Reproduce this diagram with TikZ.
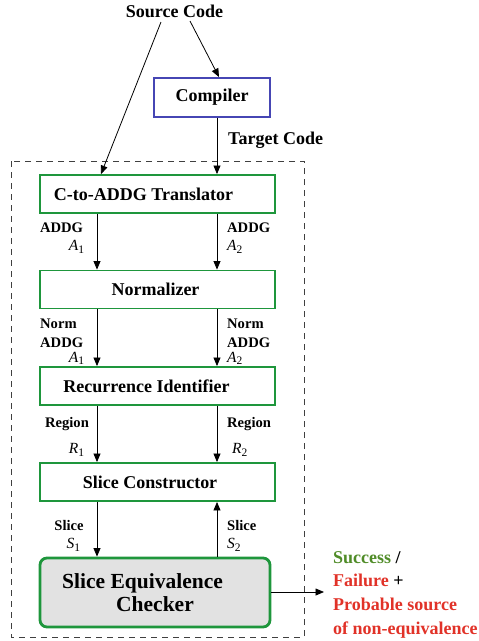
\documentclass[tikz,border=0pt]{standalone}
\usepackage{fontspec}
\setmainfont{Liberation Serif}
\usetikzlibrary{arrows.meta}
\definecolor{cblue}{RGB}{70,70,180}
\definecolor{cgreen}{RGB}{30,150,60}
\definecolor{okgreen}{RGB}{80,140,40}
\definecolor{badred}{RGB}{225,50,40}
\definecolor{cgray}{RGB}{226,226,226}
\newcommand{\sub}[2]{\textit{#1}\raisebox{-0.35ex}{\fontsize{11.5}{11.5}\selectfont #2}}
\tikzset{
  arr/.style={draw=black, line width=0.8pt, -{Triangle[length=8.5pt,width=7pt]}},
  greenbox/.style={draw=cgreen, line width=1.9pt, minimum width=235pt, minimum height=38pt, inner sep=0pt, font=\fontsize{18}{20}\selectfont\bfseries},
  bluebox/.style={draw=cblue, line width=1.9pt, minimum width=116pt, minimum height=39pt, inner sep=0pt, font=\fontsize{18}{20}\selectfont\bfseries},
  checkbox/.style={draw=cgreen, fill=cgray, line width=2.8pt, rounded corners=7pt, minimum width=230pt, minimum height=69pt, inner sep=0pt, align=center, font=\fontsize{21.5}{23}\selectfont\bfseries},
  plain/.style={inner sep=0pt, font=\fontsize{18}{20}\selectfont\bfseries},
  lab/.style={inner sep=0pt, font=\fontsize{14.6}{16}\selectfont\bfseries},
  sym/.style={inner sep=0pt, font=\fontsize{15.5}{16}\selectfont},
  frame/.style={draw=black!75, line width=0.8pt, dash pattern=on 6pt off 5pt}
}
\begin{document}
\begin{tikzpicture}[x=1pt,y=-1pt]
\useasboundingbox (0,0) rectangle (479,641);
% dashed frame
\draw[frame] (11,161) rectangle (304,637);
% nodes
\node[plain] (src) at (174.5,11) {Source Code};
\node[bluebox] (comp) at (212,97.5) {Compiler};
\node[plain, anchor=west] (tgt) at (228,140) {Target Code};
\node[greenbox] (tr) at (157.5,194) {\hspace*{-28pt}C-to-ADDG Translator};
\node[greenbox] (nm) at (157.5,289.5) {\hspace*{-4pt}Normalizer};
\node[greenbox] (ri) at (157.5,386) {\hspace*{-22pt}Recurrence Identifier};
\node[greenbox] (sc) at (157.5,482) {\hspace*{-15pt}Slice Constructor};
\node[checkbox] (ch) at (155,592.5) {\hspace*{-25pt}Slice Equivalence\\Checker};
\node[anchor=west, inner sep=0pt, align=left, font=\fontsize{18}{23.7}\selectfont\bfseries] (res) at (333,594.5)
  {\textcolor{okgreen}{Success} /\\\textcolor{badred}{Failure} +\\\textcolor{badred}{Probable source}\\\textcolor{badred}{of non-equivalence}};
% coordinates
\coordinate (s1) at (161,22);
\coordinate (s2) at (190,21);
\coordinate (L) at (97,0);
\coordinate (R) at (217,0);
\coordinate (out) at (324,592);
% labels
\node[lab] (l1a) at (61.5,228) {ADDG};
\node[sym] (l1b) at (76.5,247) {\sub{A}{1}};
\node[lab, anchor=west] (r1a) at (227,228) {ADDG};
\node[sym, anchor=west] (r1b) at (227,247) {\sub{A}{2}};
\node[lab, anchor=west] (l2a) at (40,323.3) {Norm};
\node[lab, anchor=west] (l2b) at (40,342.7) {ADDG};
\node[sym] (l2c) at (76.5,358.5) {\sub{A}{1}};
\node[lab, anchor=west] (r2a) at (227,323.3) {Norm};
\node[lab, anchor=west] (r2b) at (227,342.7) {ADDG};
\node[sym, anchor=west] (r2c) at (227,358.5) {\sub{A}{2}};
\node[lab] (l3a) at (67,424.3) {Region};
\node[sym] (l3b) at (76.5,450) {\sub{R}{1}};
\node[lab, anchor=west] (r3a) at (227,424.3) {Region};
\node[sym, anchor=west] (r3b) at (232,450) {\sub{R}{2}};
\node[lab] (l4a) at (69,525.7) {Slice};
\node[sym] (l4b) at (73.5,545) {\sub{S}{1}};
\node[lab, anchor=west] (r4a) at (227,525.7) {Slice};
\node[sym, anchor=west] (r4b) at (227,545) {\sub{S}{2}};
% connectors
\draw[arr] (s1) -- (tr.north -| 101,0);
\draw[arr] (s2) -- (comp.north -| 219,0);
\draw[arr] (comp.south -| R) -- (tr.north -| R);
\draw[arr] (tr.south -| L) -- (nm.north -| L);
\draw[arr] (tr.south -| R) -- (nm.north -| R);
\draw[arr] (nm.south -| L) -- (ri.north -| L);
\draw[arr] (nm.south -| R) -- (ri.north -| R);
\draw[arr] (ri.south -| L) -- (sc.north -| L);
\draw[arr] (ri.south -| R) -- (sc.north -| R);
\draw[arr] (sc.south -| L) -- (ch.north -| L);
\draw[arr] (ch.north -| R) -- (sc.south -| R);
\draw[arr] (ch.east |- out) -- (out);
\end{tikzpicture}
\end{document}
